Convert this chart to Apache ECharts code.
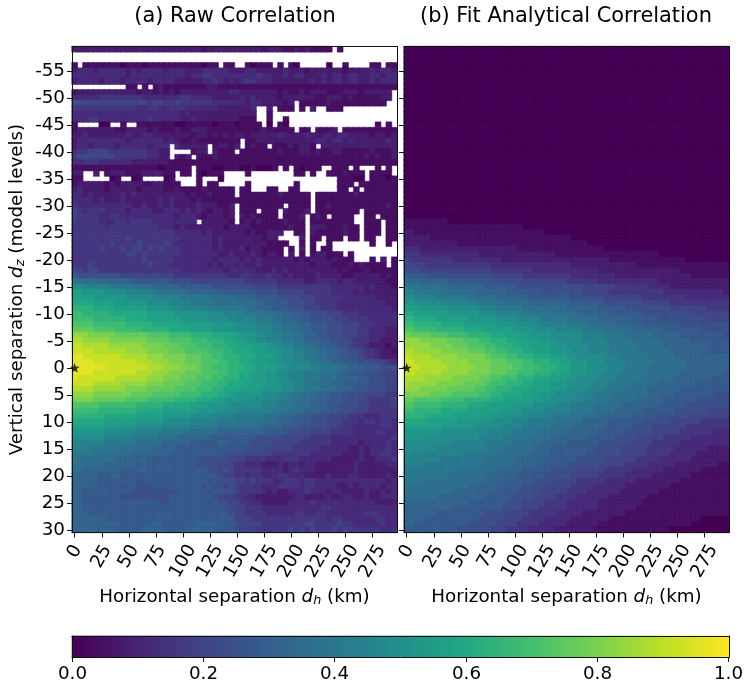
<!DOCTYPE html>
<html><head><meta charset="utf-8">
<script src="https://cdn.jsdelivr.net/npm/echarts@6/dist/echarts.min.js"></script>
<style>html,body{margin:0;padding:0;background:#fff}#c{width:745px;height:691px}</style>
</head><body><div id="c"></div>
<script>
// Values. Each letter is one cell: a=0.00, b=0.04, c=0.08 ... z=1.00.
const valueLetters = 'abcdefghijklmnopqrstuvwxyz';
const distances = Array.from({length:60},(_,i)=>i*5);
const levels = Array.from({length:90},(_,i)=>i-59);
const rawRows = [
"ccccccccccccccc cccccccccbccccc cccccbcccbbcbcb bbbbbbbbbbbbbbb",
"c","c",
"bbbbbbbbbabbbab bbbbbbbbbabbbbb bbbabbbbbbbabbb bbabbbbbbbbbbbb",
"cdddcdddddcdcdd ddcdddcccdddddc ccddcccccdcccbc cccccbccccdcddc",
"ddddddddddcdddd ddddddcddeedddd ddddeddccdcddcc cdcddcddccddcdd",
"cddddcdddcddddc ddddcccccddedcd cdeedddcccccccd cdcddcddccdcddd",
"bbbbbbbbbbbbbbb bcbbbbbbbbccbbb bbbbbbbbbbbbbbb bbbbbbbbbbbbbbb",
"bcccccccccccbcc bcbcbcccccccccd dcccccccbcbbcbc ccbbbcccbcccccc",
"dddddeeeeeeeedd dddddeeddddcccc cdcdccccbcccccc bbcccbcbbbbbccc",
"ggffffffffffffe ffeefeeeeeedddd ddcddccccbccbbb bbcbbbbbbbbbbbb",
"eeeeeeeeeeeedde eddeeeddddddccc cccdcccbbbbcbbc bbbbbbbbbbbbbbb",
"ddddddddddddddd dddddcdcccccccc ccccbbbbbbbbbbb bbbbbbbbbbbbbbb",
"dddeeddddddddde dddddccdccccccc cbbbbbbbbbbbbbb bbbbbbbbbbbbbbb",
"bbbbbaaabbbbbbb bbbbaabbbbbabbb abbbbaaabababbb bbbbbabbbbbbbbb",
"bcccccccbbccccb cbbbcbbcccbbbbb bbbbbcbbbbbbbbb bbbcbbbbbbbbbbb",
"ccdcccccccdccdd cccccccbccbcbcb ccbcccccdccccdc ccdcddccccbccbc",
"cdddddddddcdddd ddcdcbbcbbbbbbb bbbbccccccccccc ddcddcdccccccdc",
"cddcddddcdddddc dddcdcccccbbccb cbbcbbbbbbcbccb bcccccccccccccc",
"deeffffeeeeeeed dcccccbbccbcbbb bbbbbbbbcbbbccb cbbccbbbbbcbbbc",
"efgfffffeeeeeed dccccbccbbbcbbb bbbbbbbbbbbbbbb bbbbbbbbbcbcbbc",
"ddeeeddddddcccc cccbbbbbbbbbbbb bbbbbbbbbbbbbbb bbbbbbbbbbbbbbb",
"bbbbbbbbbbbbbbb babbbbbbbbbaabb baabaaabbbbbabb bbbbbbbbabbbbbb",
"cccccbbcccbbbcc ccbbbbbbbabbbbb abbbbbbbbbbbbbb bbbbbcbbbbbbbbb",
"bbbbbaaabaaabbb aaabbbbbbbbbabb aabbbbabbbbbaaa bbbbbbbaabbbbab",
"bcccccbcbccccbb ccbbbcbcbbbbbbb bbbbbbbbbbbbbbb bbbbbbbbbbbbbbb",
"cdccccbcccccbcc ccbbcbbbbcbbbbb bbbbbbbbbbbbbbb bbbbbbbbbbbbbbb",
"ddcdcccccdcdccc ccccccbcbbcbbbb bbbbbbbbcbbbbbb bbbbbbbcbbbbbbb",
"ddddcdcccdccccc cdcdcccbcbbbbbb bbbbbbbbbbbbbbb bbbbbbbbbbbbbbb",
"eddddddddddccdc cdcdccccdcccbbc bbbbbbbbbbbbbbb bbcbbbbbbbbbbcb",
"fedeeeddddcdddd ccdddcdcdcbccbc cbbbbbbbbcbbbcb bbbbbbbbbbbbbbb",
"feeeeddeedddddd ddddcdddcbcccbc bcbcbbbbbbbbcbb cbcbbbbbbbbbbbb",
"eeeeedddeedeeee dddddddddcccccb bbcbcbbbbcbbbbb bbbbbbbbbbbbbbb",
"eeeeeedeeeeeeee edddcdcccccccbc cccbbbbbbbcbbbc ccbbbcbbbbbbbbb",
"eeeeeeeeeeeeeee eeeedddddcdcccc ccbcbbcccbcbbbc bbbbbcbbbbbbbbb",
"eeeeeeeeeefeeee eeeeeddddddcdcc cccccbccbccbccb bbbbbbbbbbbbbbb",
"eeeeeeefeeeefee eefedddddddcdcc ccccccbbbbbbbbb bbbbbbbbbbbbbbb",
"eeeeefeeefeffef efeeeddddddcdcc cdbccbbbbbbbcbb cbbbbbbbbbbbbbb",
"eeeeeeeeeeffefe eeeeedddddddccd cccdcbccbbcbbcb ccbbbbbbbbbbbbb",
"eeeeeeeeeeeeefe eeeedddddddcddd dcdcdccccccbcbc ccbcbbbbcbbbcbb",
"eeefeeeeeeeeeef eeedddddddcdcdd cdccdcccccccccb cccbbbcbcbbbbbb",
"ffeffeeeeeeeeee eeeeeddddddddcd ddddcccdcdccccc ccccbcbbbcbbbbb",
"hggggggggffffff ffffeeeeeeeeeed deedddeddcdcccc dccccbbcccccbcb",
"kjjjjiiiiiihhhh hhhggggffffffff ffeeeeeedddddcc ddddcddccccccbb",
"mmlllllkkkkjjjj iiiiihhhhhhgggg gggfffffeeeeeee eeeddddddcdcccb",
"oonnnnmmmmlllll kjjjjjiiiiiihhh hhhhggggfffffee eeeddddcdcccccc",
"oooonnnnnnmmmmm lllllkkkkkjjjjj iiiihhhhggggfff eeeeeddddddcccc",
"ppppoooonnnnnnm mmmllllkkkkjjjj jjjjiihhhhgggff eeeedddddddddcc",
"qqqqppppoooooon nnnmmlllllkkkkk kkjjiiihhhgggff feeeddddddddddc",
"rrqqqqqpppppppo oooonnnnnnmmmll llkkkkjjjiihhhg ggfffeeedddddddd",
"rrrrqqqqqqpppp oooooonnnnnmmmmll lllkkkjjiiihhgg ggfffeeeedddddd",
"ssssrrrrrrqqqq qpppppoooooonnnn mmmmlllkkjjjiihh hgggfffeeedddddd",
"ttttssssrrrrrq qqqqppppoooonnnn mmmmlllkkjjjiihh hgggfffeedddcc",
"vvvuuuuutttttt ssssrrrrqqqqpppp onnnmmlllkkjjii hhgggfffeedddcc",
"wwvvvvvuuuuuuu ttttssssrrrqqqpp oonnmmlllkkjjii ihhgggfeeeddcccc",
"xxwwwwwvvvvvvu uuutttsssrrrqqqp poooonnmmllkkjj iihhggfeedcccbcb",
"xxxxwwwwwwvvvv uuuutttssssrrrqq pppooonnmmmllkk jjiihhggfeedccbcb",
"yyxxxxxxxwwwww vvvuuuutttssrrqq qpppooonnmmllkk jjiihhggfeedcccc",
"yyyyxxxxxxxxww wvvvuuutttsssrrq qppooonnnmmlllk kjjiihhhgggffed",
"yyyyyyxxxxxxxx wwwvvvuuutssrrrq qqppoooonnmmmml lkkkjjiiihhhggg",
"yyyyxxxxxxxxww wvvvuuutttsssrrq qppooonnmmlllkk kjjjiihhhgggfff",
"yxxxxxxxwwwwww vvvuuutttsssrrqq qppooonnmmlllkk kjjjiiiihhgggff",
"xxxxwwwwwvvvvv uuuttttsssrrrqqp ppoooonnnmmllkk jjjiiihhhhgggff",
"wwwwvvvvvvuuuu tttttssssrrrqqpp poooonnnnmmllkk kjjjiiihhhgggff",
"vvvvuuuuuuuttt tsssssrrrrqqqppo nnnnnmmmllkkjjj iiihhhgggffffee",
"uuuuttttttssss rrrrrqqqqpppoonn nnnmmmlllkkjjji iihhhgggffeeeef",
"sssssrrrrrrrqq qqqpppppooonnnnm mmmmmlllkkkjjji iihhggggffeeeef",
"rrrrrqqqqqqqpp pppoooooonnnnmmm mllllllkkkjjjii ihhhgggfffeeeee",
"qqqqqqppppppoo ooonnnnnmmmmllll kkkkkkjjjiiihhh gggfffeeedddeee",
"ppppppoooooonn nnnmmmmmlllllkkk kkkkjjjjiiihhhg ggfffeeedeedeed",
"oooooonnnnnnmm mmmlllllkkkkkjjj jjjjjiiiihhhggg ggffeeedddddeed",
"nnnnnnmmmmmlll llkkkkkjjjjjjiii iiiiiihhhhgggg ffffeeeeddddeedd",
"mmmmmmlllllkkkk kjjjjiiiiiihhhh hhhhgggggfffffe eeeddddddddddde",
"llllllkkkkkkjjj jjiiiiihhhhhiih hhhggggfffffeee eeedddddcdddded",
"lllkkkkkkjjjjjj iiiihhhhhhhhhhh hhggggfffffeeee edddddccdcddded",
"kkkkjjjjjjjiiii iiihhhhhhhhhhgg ggfffffeeeeeeed dddddcccdcddeed",
"kjjjjjjjiiiiiih hhhhhhhhggggggf ffeeeedddeeeddd dddcccccdccddde",
"jjjjjjiiiiiihih hhhhhhhhggggfff eedddcccdcddcdd cccccccdcccccdd",
"jjiiiiiiihhhiih hhhhhhhhhhggfgf eeeeeddddcdeddd cccccccdccccccc",
"iiiiihhiihhhhhh hhhhhhhhhhhhgff eedeedddeedddcc ccdcccddcccccdc",
"iiiihhhhhhhhghh hhhhhhhhhhghggg ffefeeeddeeedee dddddddddddddcd",
"iiiiihhhhghhggg hhhhhhhhhghggfg feeeedddeeeedee ddddccdcddddcdd",
"iihhhhhhhhhgggg ggggghhhhhghhgg feeeedcdccddded ddcddccccdccdcd",
"iihhhhhhhgggggg ggghhhhhhhhgfff eeddcccccccddcc ccdccddccdccddd",
"iihhhhhhhhhhhhh hgghhhhhhhghggf feeddcccccdddde dddddddddddcccc",
"iihhhhhhhhhhhhh hhhhhhhhhhhhhgg ffeeedddddddddd deedddddddddddd",
"iiihhhhhhhhhhhh hhhhhhhhhhhhhhg ffeeeedddddeedd eedddddddeeeddd",
"iiiiiihhhhhhhhh hhhhhhhhhhhhhhh fffeeeeeeeeeeee eedeeddddddeedd",
"iiiiiiiiihhhhhh iihhhhhhiiiihhh gffffeeeeeeeeff eeeefeedddddedd",
"iiiiiiiihhhhhii iihhhhiiiiihhhh gfffeeeeeefefef eeefefeeeeeedde"
];
const fitRows = [
"a","a","a","a","a","a","a","a","a","a","a","a","a","a","a","a",
"a","a","a","a","a","a","a","a","a","a","a","a","a","a","a","a",
"bbbbbbbba",
"bbbbbbbbbbbbbbb bbbbbbba",
"ccbbbbbbbbbbbbb bbbbbbbbbbba",
"cccccbbbbbbbbbb bbbbbbbbbbbbbbb ba",
"ccccccccccbbbbb bbbbbbbbbbbbbbb bbbba",
"dddcccccccccccc ccccccbbbbbbbbb bbbbbbba",
"eeedddddddddddc cccccccccccccbb bbbbbbbbbbbbbbb bba",
"feeeeeeeedddddd dddcccccccccccc ccccccccbbbbbbb bbbbbbba",
"ffffeeeeeeeeeee edddddddddddddd dccccccccccccbb bbbbbbbbbbbbbbb",
"gggffffffffffff feeeeeeeedddddd ddddddccccccccc ccccccbbbbbbbbb",
"hhhhggggggggggg gffffffeeeeeeee eddddddddcccccc ccccccccbbbbbbb",
"jiiiiiiihhhhhhh hggggggfffffff feeeeeedddddddd dddcccccccccccc",
"kkkjjjjjiiiiiii hhhhhhggggggggg gggffffffeeeeee ddddcccccccccc",
"llkkkkkjjjjjjii iiiihhhhhhggggg gggfffffeeeeeee eeedddddddddddc",
"mmllllkkkkkkjjj jjiiiiiihhhhhhh hggggggfffffffe eeeeeeeddddddd",
"nnmmmmmllllllkk kkjjjjjjiiiiiii ihhhhhhgggggggf ffffeeeeeeeeee",
"ooonnnnnmmmmmml llkkkkkjjjjjjjj iiiiiihhhhhgggg ggggfffffffeee",
"ppoooooonnnnnnm mmlllllkkkkkjjj jjiiiiiihhhhhhg ggggggggffffff",
"qqppppoooooonnn nnmmmmllllkkkkk kjjjjjiiiiiihhh hhgggggggggfff",
"rrqqqqqppppoooo oonnnnmmmmlllll kkkkjjjjjiiiiih hhhhhhgggggggg",
"ssrrrrqqqqqpppp ooooonnnnmmmmll lllkkkkjjjjjiii iiihhhhhhhggggg",
"uttttsssrrrrqqq qpppoooonnnnmmm mmmllllkkkkjjjj jiiiiihhhhhhhhg",
"vvvuuuuutttsssr rqqqppoooonnnmm mmmllllkkkkkjjj jjiiiiiihhhhhhh",
"vvvvvuuuutttsss rrqqqpppoooonnn mmmmllllkkkkkjj jjjiiiiiiiihhhh",
"wwvvvvvuuuuuttt ssrrqqqppooonnn nmmmllllkkkkkkj jjjjiiiiiiihhhh",
"xwwwwvvvvvuuuuu tsssrrqqqpppooo nnmmmmmlllkkkkk jjjjjiiiiiiiiii",
"xxwwwwwvvvvvuuu utttsssrrqqqppo onnnmmmllllkkkk kjjjjjjiiiiiiii",
"xxxwwwwwvvvvvuu uttttssrrrqqqpp onnnmmmmlllkkkk jjjjjjjiiiiiiii",
"xxwwwwwvvvvvuuu utttssrrrqqqppo onnnmmmlllkkkkk jjjjjjiiiiiiiih",
"wwwwvvvvvuuuuut tssrrrqqqpppooo nnmmmmlllkkkkkj jjjjjiiiiiiihhh",
"wvvvvvuuuuutttt srrrqqqppooonnn nmmmmlllkkkkjjj jjiiiiiiihhhhhh",
"vvvuuuuutttttss rrqqqpppoooonnn mmmmlllkkkkjjjj iiiiiihhhhhhhhh",
"uuuuuttttsssssr rqqppppooonnnmm mmlllkkkkjjjjjj iiiiihhhhhhhggg",
"ttsssssrrrrqqqq qpppooooonnnmmm mlllkkkkjjjjjii iiihhhhhhgggggg",
"ssrrrrrqqqqqppp ooooonnnnmmmmll lkkkkjjjjjiiiii iihhhhhgggggggg",
"rrqqqqqpppppooo ooonnnnmmmmllll lkkkkjjjjiiiiih hhhhhggggggffff",
"qqqqpppppoooooo nnnnmmmmllllkkk kkkjjjjiiiiihhh hhggggggfffffff",
"ppppoooooonnnnn nmmmmlllkkkkkjj jjjiiiiihhhhhhg ggggffffffeeeee",
"ooooooonnnnnnmm mmmllllkkkkkjjj jiiiiiihhhhhggg gffffffeeeeeeee",
"nnnnnnnmmmmmmmm lllllkkkkkjjjjj iiiiiihhhhhgggg gfffffeeeeeeddd",
"nnnnmmmmmmmmmml lllkkkkkjjjjiii iiiihhhhhggggff fffeeeeeddddddd",
"mmmmmmmmmllllll kkkkkjjjjjiiiii hhhhhhggggggfff feeeeeddddddddd",
"mmmmmmlllllllll kkkkjjjjjiiiihh hhhhhgggggfffff eeeeeddddddcccc",
"mllllllllllkkkk kkjjjjjjiiiihhh hhhhggggggfffff eeeedddddcccccc",
"lllllllkkkkkkkk jjjjjjiiiiihhhh hhgggggffffffee eeddddddcccccc",
"llllkkkkkkkkkkj jjjjjiiiiihhhhh ggggggfffffeeee dddddccccccccbb",
"kkkkkkkkkkjjjjj jjiiiiihhhhhggg ggfffffeeeeeddd dddcccccccbbbbb",
"kkkkkkkkjjjjjjj iiiiiihhhhhgggg gfffffeeeeedddd dcccccccbbbbbbb",
"kkkkjjjjjjjjjjj iiiihhhhhggggff ffeeeeeddddddcc ccccccbbbbbbbbb",
"kjjjjjjjjjjjiii iiihhhhggggffff feeeeddddddcccc ccccbbbbbbbbbbb",
"jjjjjjjjjiiiiii iihhhhggggfffff eeeeddddddccccc ccbbbbbbbbbbbbb",
"jjjjjjiiiiiiiii hhhhhggggffffee eeddddddccccccc bbbbbbbbbbbbbbb",
"iiiiiiiiiiiihhh hhhhgggffffeeee ddddddccccccccb bbbbbbbbbbbbbbb",
"iiiiiiiiihhhhhh hhhggggfffeeeee ddddddcccccccbb bbbbbbbbbbbbbbb",
"iiiiiihhhhhhhhh ggggffffeeeeedd dddccccccccbbbb bbbbbbbbbbbbbbb",
"iiiihhhhhhhhhhg gggffffeeeedddd dcccccccbbbbbbb bbbbbbbbbbaaaaa",
"iihhhhhhhhhhggg ggffffeeeeddddd ccccccbbbbbbbbb bbbbbbbbaaaaaaa",
"hhhhhhhhhhggggg gfffeeeedddddcc cccccbbbbbbbbbb bbbbaaaaaaaaaaa"
];
// Cells of the raw panel with no value (drawn white): [level, columns]
const missingCells = [
[-59,"48,50-59"],[-58,"0-59"],[-57,"0-59"],[-56,"1,27,30-31,37,39,42-46,48-49,51-54,57"],
[-52,"0-9,12,14"],[-51,"59"],[-50,"59"],[-49,"41,58-59"],
[-48,"34-35,37,41,43,45-46,50-59"],[-47,"34-35,37-59"],[-46,"34-35,37-38,40-59"],
[-45,"1-4,7-8,10-11,35,37,40-55,57,59"],[-44,"41,44,49"],
[-42,"31"],[-41,"18,25,31,36,45"],[-40,"18-21,25,30"],[-39,"18,22"],
[-37,"22,38,40,46-47,51,53-55,57,59"],
[-36,"2-3,5,19,22,28-31,33-40,43,45-46,54,59"],
[-35,"2-6,9-10,13-16,19-22,24-26,28-48,54"],
[-34,"20-22,24,27-31,33-40,42-48,52"],
[-33,"30,33-35,38-39,42-48,51,53"],
[-32,"30,44"],[-31,"44"],
[-30,"30,39,44"],[-29,"30,34,38,44,53"],[-28,"30,38,43,47,52-53,56"],
[-27,"23,30,43,52-53,57"],[-26,"43,53,57"],[-25,"39-40,43,53,57"],
[-24,"38-41,43,46,50,53,56-57"],[-23,"40-41,43,45-46,48-54,56-57,59"],
[-22,"39,41,43,45,48-59"],[-21,"39,41,43,50,52-59"],[-20,"52-54,56,58"],[-19,"58"]
];
const xTickStep = 5;
const yTickLabels = [-55,-50,-45,-40,-35,-30,-25,-20,-15,-10,-5,0,5,10,15,20,25,30];
const colorbarTicks = [0,0.2,0.4,0.6,0.8,1];
const starPoint = [0,0];
const titles = ['(a) Raw Correlation','(b) Fit Analytical Correlation'];
const viridis = ['#440154','#482475','#414487','#355f8d','#2a788e','#21918c','#22a884','#44bf70','#7ad151','#bddf26','#fde725'];

const FONT='"DejaVu Sans"', TS=18.3, LINE='#111';
const hexRgb=h=>[1,3,5].map(i=>parseInt(h.substr(i,2),16));
const stops=viridis.map(hexRgb);
function viridisColor(v){
  const p=Math.min(0.9999,Math.max(0,v))*(stops.length-1),i=Math.floor(p),f=p-i;
  const c=stops[i].map((a,k)=>Math.round(a+(stops[i+1][k]-a)*f));
  return `rgb(${c[0]},${c[1]},${c[2]})`;
}
const cell=(c,r,v)=>{const col=viridisColor(v);return {value:[c,r,v],itemStyle:{color:col,borderColor:col,borderWidth:0.5}};};
const parseCols=s=>{const o=new Set();s.split(',').forEach(p=>{const[a,b]=p.split('-').map(Number);for(let i=a;i<=(b===undefined?a:b);i++)o.add(i);});return o;};
const missing={};missingCells.forEach(([l,s])=>missing[l]=parseCols(s));
function cells(rows,mask){
  const out=[];
  rows.forEach((row,r)=>{
    const s=row.replace(/ /g,'');
    for(let c=0;c<60;c++){
      if(mask&&missing[levels[r]]&&missing[levels[r]].has(c))continue;
      const ch=c<s.length?s[c]:s[s.length-1];
      out.push(cell(c,r,valueLetters.indexOf(ch)/25));
    }
  });
  return out;
}
const nameRich={n:{fontFamily:FONT,fontSize:TS,color:'#000'},i:{fontFamily:FONT,fontSize:TS,fontStyle:'italic',color:'#000'},s:{fontFamily:FONT,fontSize:12.8,fontStyle:'italic',color:'#000',verticalAlign:'bottom',padding:[7,0,0,0]}};
const xLabelRich={a:{fontFamily:FONT,fontSize:TS,color:'#000'},
 b:{fontFamily:FONT,fontSize:TS,color:'#000',padding:[5,9,0,0]},
 c:{fontFamily:FONT,fontSize:TS,color:'#000',padding:[10,17,0,0]}};
const xCats=distances.map(String), yCats=levels.map(String);
const axisOff={show:true,axisLine:{show:true,onZero:false,lineStyle:{color:LINE,width:1}},axisTick:{show:false},axisLabel:{show:false},splitLine:{show:false},z:6};
const xAxes=[],yAxes=[],grids=[];
[[72,325],[404,325]].forEach(([left,w],g)=>{
  grids.push({left,width:w,top:46.5,height:486,outerBoundsMode:'none'});
  xAxes.push({type:'category',gridIndex:g,data:xCats,position:'bottom',z:6,
    axisLine:{show:true,onZero:false,lineStyle:{color:LINE,width:1}},
    axisTick:{show:true,alignWithLabel:true,interval:xTickStep-1,length:5,lineStyle:{color:LINE,width:1}},
    axisLabel:{show:true,interval:xTickStep-1,rotate:60,align:'center',verticalAlign:'middle',margin:19,rich:xLabelRich,
      formatter:v=>`{${v.length===1?'a':v.length===2?'b':'c'}|${v}}`},
    splitLine:{show:false},
    name:'{n|Horizontal separation }{i|d}{s|h}{n| (km)}',nameLocation:'middle',nameGap:55,nameTextStyle:{rich:nameRich}});
  xAxes.push(Object.assign({type:'category',gridIndex:g,data:xCats,position:'top'},axisOff));
  yAxes.push({type:'category',gridIndex:g,data:yCats,inverse:true,position:'left',z:6,
    axisLine:{show:true,onZero:false,lineStyle:{color:LINE,width:1}},
    axisTick:{show:true,alignWithLabel:true,length:5,interval:i=>yTickLabels.includes(levels[i]),lineStyle:{color:LINE,width:1}},
    axisLabel:{show:g===0,margin:7,fontFamily:FONT,fontSize:TS,color:'#000',interval:i=>yTickLabels.includes(levels[i])},
    splitLine:{show:false},
    name:g===0?'{n|Vertical separation }{i|d}{s|z}{n| (model levels)}':'',nameLocation:'middle',nameGap:45,nameRotate:90,nameTextStyle:{rich:nameRich}});
  yAxes.push(Object.assign({type:'category',gridIndex:g,data:yCats,inverse:true,position:'right'},axisOff));
});
// colour bar: one cell per pixel of its width
const cbCount=657, cbValues=Array.from({length:cbCount},(_,i)=>i/(cbCount-1));
const cbLabelIdx=colorbarTicks.map(t=>Math.round(t*(cbCount-1)));
grids.push({left:72,width:657,top:636,height:21,outerBoundsMode:'none'});
xAxes.push({type:'category',gridIndex:2,data:cbValues.map(v=>v.toFixed(1)),position:'bottom',z:6,
  axisLine:{show:true,onZero:false,lineStyle:{color:LINE,width:1}},
  axisTick:{show:true,alignWithLabel:true,length:5,interval:i=>cbLabelIdx.includes(i),lineStyle:{color:LINE,width:1}},
  axisLabel:{interval:i=>cbLabelIdx.includes(i),margin:8,fontFamily:FONT,fontSize:TS,color:'#000',showMinLabel:true,showMaxLabel:true},splitLine:{show:false}});
xAxes.push(Object.assign({type:'category',gridIndex:2,data:cbValues.map(v=>v.toFixed(1)),position:'top'},axisOff));
yAxes.push({type:'category',gridIndex:2,data:['c'],position:'left',z:6,axisLine:{show:true,onZero:false,lineStyle:{color:LINE,width:1}},axisTick:{show:false},axisLabel:{show:false},splitLine:{show:false}});
yAxes.push(Object.assign({type:'category',gridIndex:2,data:['c'],position:'right'},axisOff));

const heat=(name,x,y,data)=>({name,type:'heatmap',xAxisIndex:x,yAxisIndex:y,data,progressive:0,animation:false,emphasis:{disabled:true},silent:true});
const star=(x,y)=>({type:'scatter',xAxisIndex:x,yAxisIndex:y,z:8,clip:false,silent:true,animation:false,
  symbol:'path://M50 0 L61 35 L98 35 L68 57 L79 91 L50 70 L21 91 L32 57 L2 35 L39 35 Z',symbolSize:10,
  itemStyle:{color:'#000'},data:[[distances.indexOf(starPoint[0]),levels.indexOf(starPoint[1])]]});

const chart=echarts.init(document.getElementById('c'),null,{renderer:'canvas'});
chart.setOption({
  animation:false,backgroundColor:'#fff',
  title:titles.map((t,i)=>({text:t,left:[230,561][i],top:1,textAlign:'center',textStyle:{fontFamily:FONT,fontSize:20.9,fontWeight:'normal',color:'#000'}})),
  grid:grids,xAxis:xAxes,yAxis:yAxes,
  series:[
    heat('Raw Correlation',0,0,cells(rawRows,true)),
    heat('Fit Analytical Correlation',2,2,cells(fitRows,false)),
    heat('Colorbar',4,4,cbValues.map((v,i)=>{const col=viridisColor(v);return {value:[i,0,v],itemStyle:{color:col}};})),
    star(0,0),star(2,2)
  ]
});
</script></body></html>
